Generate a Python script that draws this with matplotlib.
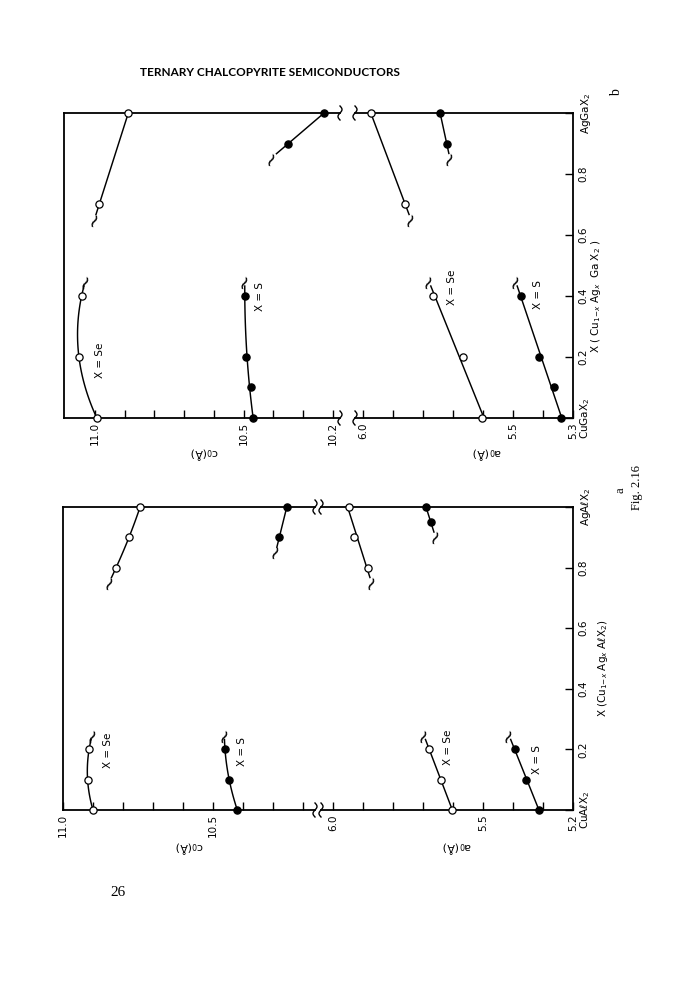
import numpy as np
import matplotlib
matplotlib.use("Agg")
import matplotlib.pyplot as plt
from matplotlib.lines import Line2D

plt.rcParams['font.family'] = ['DejaVu Sans']
plt.rcParams['mathtext.fontset'] = 'dejavusans'

W, H = 675, 1000

# ---------------- data: panel a (Cu1-x Agx Al X2) ----------------
a_c_se_lo_x = [0.0, 0.1, 0.2]
a_c_se_lo = [10.900, 10.918, 10.913]
a_c_s_lo_x = [0.0, 0.1, 0.2]
a_c_s_lo = [10.419, 10.446, 10.460]
a_c_se_hi_x = [0.8, 0.9, 1.0]
a_c_se_hi = [10.823, 10.780, 10.743]
a_c_s_hi_x = [0.9, 1.0]
a_c_s_hi = [10.279, 10.254]

a_a_se_lo_x = [0.0, 0.1, 0.2]
a_a_se_lo = [5.602, 5.641, 5.679]
a_a_s_lo_x = [0.0, 0.1, 0.2]
a_a_s_lo = [5.312, 5.357, 5.393]
a_a_se_hi_x = [0.8, 0.9, 1.0]
a_a_se_hi = [5.882, 5.930, 5.946]
a_a_s_hi_x = [0.95, 1.0]
a_a_s_hi = [5.674, 5.690]

# ---------------- data: panel b (Cu1-x Agx Ga X2) ----------------
b_c_se_lo_x = [0.0, 0.2, 0.4]
b_c_se_lo = [10.994, 11.054, 11.045]
b_c_s_lo_x = [0.0, 0.1, 0.2, 0.4]
b_c_s_lo = [10.470, 10.476, 10.492, 10.496]
b_c_se_hi_x = [0.7, 1.0]
b_c_se_hi = [10.986, 10.888]
b_c_s_hi_x = [0.9, 1.0]
b_c_s_hi = [10.350, 10.230]

b_a_se_lo_x = [0.0, 0.2, 0.4]
b_a_se_lo = [5.602, 5.668, 5.766]
b_a_s_lo_x = [0.0, 0.1, 0.2, 0.4]
b_a_s_lo = [5.341, 5.363, 5.412, 5.474]
b_a_se_hi_x = [0.7, 1.0]
b_a_se_hi = [5.859, 5.974]
b_a_s_hi_x = [0.9, 1.0]
b_a_s_hi = [5.721, 5.743]

# ---------------- ticks ----------------
a_c_ticks = [11.0, 10.9, 10.8, 10.7, 10.6, 10.5, 10.4, 10.3, 10.2]
a_c_labels = ['11.0', '', '', '', '', '10.5', '', '', '']
a_a_ticks = [6.0, 5.9, 5.8, 5.7, 5.6, 5.5, 5.4, 5.3, 5.2]
a_a_labels = ['6.0', '', '', '', '', '5.5', '', '', '5.2']
b_c_ticks = [11.0, 10.9, 10.8, 10.7, 10.6, 10.5, 10.4, 10.3, 10.2]
b_c_labels = ['11.0', '', '', '', '', '10.5', '', '', '10.2']
b_a_ticks = [6.0, 5.9, 5.8, 5.7, 5.6, 5.5, 5.4, 5.3]
b_a_labels = ['6.0', '', '', '', '', '5.5', '', '5.3']
comp_ticks = [0.0, 0.2, 0.4, 0.6, 0.8, 1.0]
a_comp_labels = ['CuA$\\ell$X$_2$', '0.2', '0.4', '0.6', '0.8', 'AgA$\\ell$X$_2$']
b_comp_labels = ['CuGaX$_2$', '0.2', '0.4', '0.6', '0.8', 'AgGaX$_2$']

fig = plt.figure(figsize=(6.75, 10), dpi=100)
fig.patch.set_facecolor('white')


def fx(x):
    return x / W


def fy(y):
    return 1 - y / H


def add_ax(x0, x1, ytop, ybot):
    return fig.add_axes([fx(x0), fy(ybot), (x1 - x0) / W, (ybot - ytop) / H])


LW_SP = 1.3
TICKFS = 7.5


def style_val_axis(ax, ticks, labels, lim):
    ax.set_xlim(*lim)
    ax.set_ylim(0, 1)
    ax.set_xticks(ticks, labels, rotation=90)
    ax.tick_params(axis='x', direction='in', length=6, width=1, labelsize=TICKFS, pad=3)
    for s in ax.spines.values():
        s.set_linewidth(LW_SP)
    ax.patch.set_alpha(0)


def series(ax, comp, vals, filled, end, deg):
    comp = np.asarray(comp, float)
    vals = np.asarray(vals, float)
    coef = np.polyfit(comp, vals, deg)
    ext = 0.035
    if end == 'hi':
        t = np.linspace(comp.min(), comp.max() + ext, 60)
        tip = comp.max() + ext + 0.012
    else:
        t = np.linspace(comp.min() - ext, comp.max(), 60)
        tip = comp.min() - ext - 0.012
    ax.plot(np.polyval(coef, t), t, color='k', lw=1.05, solid_capstyle='butt', zorder=2)
    ax.plot(vals, comp, 'o', ms=5.2, mfc='k' if filled else 'white', mec='k', mew=0.9,
            clip_on=False, zorder=3)
    ax.text(np.polyval(coef, tip), tip, '~', fontsize=14, rotation=65,
            ha='center', va='center', zorder=3)


def break_marks(xs, ys):
    t = np.linspace(0, 1, 40)
    for x0 in xs:
        for y0 in ys:
            xx = x0 + 2.0 * np.sin(2 * np.pi * t)
            yy = y0 - 7 + 14 * t
            fig.add_artist(Line2D(fx(xx), fy(yy), color='k', lw=1.0, transform=fig.transFigure))


def build_panel(yt, yb, xl, xbl, xbr, xr, clim, alim, cticks, clabels, aticks, alabels,
                comp_labels):
    axc = add_ax(xl, xbl, yt, yb)
    axa = add_ax(xbr, xr, yt, yb)
    style_val_axis(axc, cticks, clabels, clim)
    style_val_axis(axa, aticks, alabels, alim)
    axc.spines['right'].set_visible(False)
    axa.spines['left'].set_visible(False)
    axc.set_yticks([])
    axa.yaxis.tick_right()
    axa.set_yticks(comp_ticks, comp_labels, rotation=90, va='center')
    axa.tick_params(axis='y', direction='in', length=6, width=1, labelsize=TICKFS, pad=4)
    axa.tick_params(axis='y', which='minor', length=0)
    return axc, axa


# ---------------- panel a ----------------
ac, aa = build_panel(507, 810, 63, 315, 321, 573,
                     (11.0, 11.0 - 252 / 300), (6.0 + 12 / 300, 5.2),
                     a_c_ticks, a_c_labels, a_a_ticks, a_a_labels, a_comp_labels)
series(ac, a_c_se_lo_x, a_c_se_lo, False, 'hi', 2)
series(ac, a_c_s_lo_x, a_c_s_lo, True, 'hi', 2)
series(ac, a_c_se_hi_x, a_c_se_hi, False, 'lo', 2)
series(ac, a_c_s_hi_x, a_c_s_hi, True, 'lo', 1)
series(aa, a_a_se_lo_x, a_a_se_lo, False, 'hi', 1)
series(aa, a_a_s_lo_x, a_a_s_lo, True, 'hi', 1)
series(aa, a_a_se_hi_x, a_a_se_hi, False, 'lo', 1)
series(aa, a_a_s_hi_x, a_a_s_hi, True, 'lo', 1)
break_marks([315, 321], [507, 810])

# ---------------- panel b ----------------
bc, ba = build_panel(113, 418, 64, 340, 355, 573,
                     (11.0 + 31 / 297.5, 11.0 - 245 / 297.5), (6.0 + 8 / 300, 5.3),
                     b_c_ticks, b_c_labels, b_a_ticks, b_a_labels, b_comp_labels)
series(bc, b_c_se_lo_x, b_c_se_lo, False, 'hi', 2)
series(bc, b_c_s_lo_x, b_c_s_lo, True, 'hi', 2)
series(bc, b_c_se_hi_x, b_c_se_hi, False, 'lo', 1)
series(bc, b_c_s_hi_x, b_c_s_hi, True, 'lo', 1)
series(ba, b_a_se_lo_x, b_a_se_lo, False, 'hi', 1)
series(ba, b_a_s_lo_x, b_a_s_lo, True, 'hi', 1)
series(ba, b_a_se_hi_x, b_a_se_hi, False, 'lo', 1)
series(ba, b_a_s_hi_x, b_a_s_hi, True, 'lo', 1)
break_marks([340, 355], [113, 418])


def ftxt(x, y, s, **kw):
    fig.text(fx(x), fy(y), s, ha='center', va='center', **kw)


# series labels
for (x, y, s) in [(108, 750, 'X = Se'), (242, 752, 'X = S'), (448, 747, 'X = Se'),
                  (537, 760, 'X = S'), (100, 360, 'X = Se'), (260, 297, 'X = S'),
                  (452, 287, 'X = Se'), (538, 295, 'X = S')]:
    ftxt(x, y, s, rotation=90, fontsize=7.5)

# axis titles
ftxt(190, 847, 'c$_0$(Å)', rotation=180, fontsize=8)
ftxt(457, 847, 'a$_0$(Å)', rotation=180, fontsize=8)
ftxt(205, 453, 'c$_0$(Å)', rotation=180, fontsize=8)
ftxt(487, 453, 'a$_0$(Å)', rotation=180, fontsize=8)
ftxt(603, 668, 'X (Cu$_{1\\mathsf{-}x}$ Ag$_x$ A$\\ell$X$_2$)', rotation=90, fontsize=7.5)
ftxt(596, 296, 'X ( Cu$_{1\\mathsf{-}x}$ Ag$_x$  Ga X$_2$ )', rotation=90, fontsize=7.5)

# page furniture
ftxt(270, 72, 'TERNARY CHALCOPYRITE SEMICONDUCTORS', fontsize=8.5, fontweight='bold',
     family=['Lato', 'DejaVu Sans'])
ftxt(617, 93, 'b', rotation=90, fontsize=10, family=['Liberation Serif'])
ftxt(621, 490, 'a', rotation=90, fontsize=9, family=['Liberation Serif'])
ftxt(637, 488, 'Fig. 2.16', rotation=90, fontsize=9, family=['Liberation Serif'])
ftxt(118, 893, '26', fontsize=11, family=['Liberation Serif'])

fig.savefig('out.png', dpi=100, facecolor='white')
